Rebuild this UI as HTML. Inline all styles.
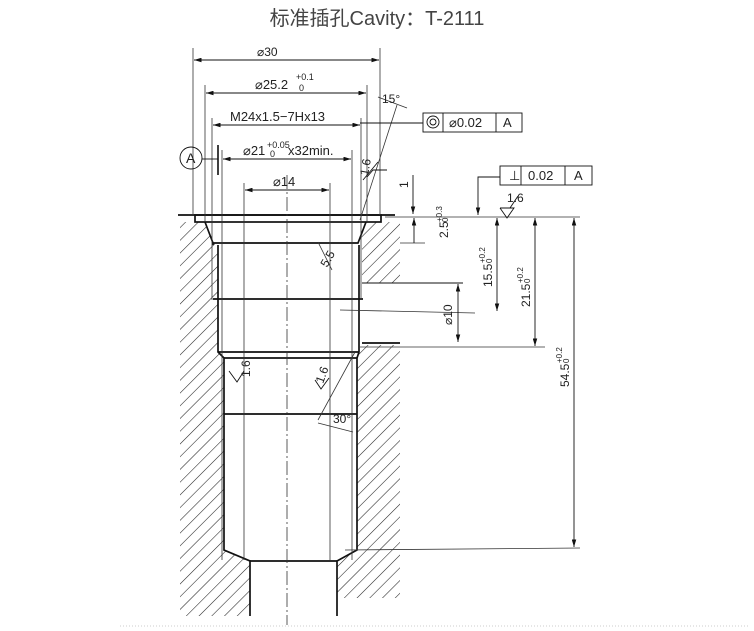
<!DOCTYPE html>
<html><head><meta charset="utf-8"><style>
body{margin:0;background:#fff;width:754px;height:631px;overflow:hidden}
.t{position:absolute;left:0;top:2px;width:754px;text-align:center;font:20px "Liberation Sans","Noto Sans CJK SC",sans-serif;color:#444}
svg{position:absolute;left:0;top:0}
text{font-family:"Liberation Sans",sans-serif;fill:#222}
</style></head><body>
<div class="t">标准插孔Cavity：T-2111</div>
<svg width="754" height="631" viewBox="0 0 754 631">
<defs>
<pattern id="h" width="9" height="9" patternUnits="userSpaceOnUse" patternTransform="rotate(45)">
<line x1="0" y1="0" x2="0" y2="9" stroke="#222" stroke-width="1.1"/></pattern>
<marker id="a" viewBox="0 0 10 6" refX="10" refY="3" markerWidth="10" markerHeight="5" orient="auto-start-reverse"><path d="M0,0L10,3L0,6z" fill="#111"/></marker>
</defs>
<g stroke="none" fill="url(#h)">
<polygon points="180,222 205,222 213,243 218,245 218,352 224,358 224,550 250,561 250,616 180,616"/>
<polygon points="366,222 400,222 400,283 362,283 362,243 358,243"/>
<polygon points="362,345 400,345 400,600 337,600 337,561 357,550 357,358"/>
</g>
<g fill="#fff" stroke="none"><rect x="337" y="598" width="70" height="22"/></g>
<g stroke="#111" fill="none" stroke-width="1.7">
<line x1="178" y1="215" x2="395" y2="215"/>
<rect x="195" y="215" width="186" height="7"/>
<polyline points="205,222 213,243 358,243 366,222"/>
<line x1="213" y1="243" x2="213" y2="245"/>
<polyline points="218,245 218,352 224,358 224,550 250,561 250,616"/>
<polyline points="359,245 359,352 357,358 357,550 337,561 337,616"/>
<line x1="213" y1="299" x2="363" y2="299"/>
<line x1="218" y1="352" x2="359" y2="352"/>
<line x1="224" y1="358" x2="357" y2="358"/>
<line x1="224" y1="414" x2="357" y2="414"/>
<line x1="250" y1="561" x2="337" y2="561"/>
<line x1="362" y1="283" x2="463" y2="283" stroke-width="1"/>
<line x1="362" y1="343" x2="400" y2="343"/>
</g>
<g stroke="#333" fill="none" stroke-width="0.8">
<line x1="287" y1="175" x2="287" y2="625" stroke-dasharray="14,3,2,3"/>
<line x1="193" y1="48" x2="193" y2="215"/><line x1="380" y1="48" x2="380" y2="215"/>
<line x1="205" y1="85" x2="205" y2="222"/><line x1="367" y1="85" x2="367" y2="222"/>
<line x1="212" y1="118" x2="212" y2="300"/><line x1="361" y1="118" x2="361" y2="300"/>
<line x1="222" y1="150" x2="222" y2="560"/><line x1="352" y1="150" x2="352" y2="560"/>
<line x1="244" y1="183" x2="244" y2="560"/><line x1="330" y1="183" x2="330" y2="560"/>
<line x1="340" y1="310" x2="475" y2="313"/>
<line x1="358" y1="347" x2="545" y2="347"/>
<line x1="345" y1="550" x2="580" y2="548"/>
<line x1="385" y1="217" x2="580" y2="217"/>
<line x1="400" y1="243" x2="425" y2="243"/>
<line x1="360" y1="220" x2="397" y2="105"/>
<line x1="378" y1="97" x2="407" y2="108"/>
<line x1="318" y1="420" x2="355" y2="352"/>
<line x1="318" y1="423" x2="353" y2="432"/>
<line x1="318" y1="242" x2="332" y2="270"/>
</g>
<g stroke="#111" stroke-width="0.9" marker-start="url(#a)" marker-end="url(#a)">
<line x1="194" y1="60" x2="379" y2="60"/>
<line x1="206" y1="93" x2="366" y2="93"/>
<line x1="213" y1="125" x2="360" y2="125"/>
<line x1="223" y1="159" x2="351" y2="159"/>
<line x1="245" y1="190" x2="329" y2="190"/>
<line x1="458" y1="284" x2="458" y2="342"/>
<line x1="497" y1="218" x2="497" y2="311"/>
<line x1="535" y1="218" x2="535" y2="346"/>
<line x1="574" y1="218" x2="574" y2="547"/>
</g>
<g stroke="#111" stroke-width="0.9" fill="none">
<line x1="413" y1="175" x2="413" y2="214" marker-end="url(#a)"/>
<line x1="414" y1="232" x2="414" y2="218" marker-end="url(#a)"/>
<line x1="414" y1="232" x2="414" y2="243"/>
<line x1="218" y1="145" x2="218" y2="175" stroke-width="1.6"/>
<line x1="202" y1="159" x2="218" y2="159"/>
<circle cx="191" cy="158" r="11"/>
<line x1="360" y1="123" x2="423" y2="123"/>
<rect x="423" y="113" width="99" height="19"/><line x1="443" y1="113" x2="443" y2="132"/><line x1="496" y1="113" x2="496" y2="132"/>
<circle cx="433" cy="122" r="6"/><circle cx="433" cy="122" r="3"/>
<rect x="500" y="166" width="92" height="19"/><line x1="521" y1="166" x2="521" y2="185"/><line x1="565" y1="166" x2="565" y2="185"/>
<polyline points="500,177 478,177 478,215" marker-end="url(#a)"/>
<polyline points="500,208 507,218 514,208 500,208"/>
<polyline points="367,177 373,170 387,170"/>
<polyline points="229,371 237,382 244,371"/>
<polyline points="315,380 321,389 329,378"/>
<line x1="510" y1="208" x2="518" y2="196"/>
<line x1="363" y1="180" x2="378" y2="162"/>
</g>
<g font-size="13">
<text x="257" y="56" font-size="12">⌀30</text>
<text x="255" y="89">⌀25.2</text><text x="296" y="80" font-size="9">+0.1</text><text x="299" y="91" font-size="9">0</text>
<text x="230" y="121">M24x1.5−7Hx13</text>
<text x="243" y="155">⌀21</text><text x="267" y="148" font-size="9">+0.05</text><text x="270" y="157" font-size="9">0</text><text x="288" y="155">x32min.</text>
<text x="273" y="186">⌀14</text>
<text x="186" y="163" font-size="14">A</text>
<text x="382" y="103" font-size="12">15°</text>
<text x="449" y="127">⌀0.02</text><text x="503" y="127">A</text>
<text x="528" y="180">0.02</text><text x="574" y="180">A</text>
<text x="507" y="202" font-size="12">1.6</text>
<text x="509" y="180" font-size="13">⊥</text>
<text x="333" y="423" font-size="12">30°</text>
</g>
<g font-size="12">
<text transform="translate(368,176) rotate(-80)">1.6</text>
<text transform="translate(250,377) rotate(-90)">1.6</text>
<text transform="translate(323,384) rotate(-70)">1.6</text>
<text transform="translate(327,268) rotate(-60)">5.5</text>
<text transform="translate(408,188) rotate(-90)">1</text>
<text transform="translate(452,325) rotate(-90)">⌀10</text>
<text transform="translate(448,238) rotate(-90)">2.5</text><text transform="translate(442,222) rotate(-90)" font-size="8">+0.3</text><text transform="translate(448,222) rotate(-90)" font-size="8">0</text>
<text transform="translate(492,287) rotate(-90)">15.5</text><text transform="translate(485,263) rotate(-90)" font-size="8">+0.2</text><text transform="translate(492,263) rotate(-90)" font-size="8">0</text>
<text transform="translate(530,307) rotate(-90)">21.5</text><text transform="translate(523,283) rotate(-90)" font-size="8">+0.2</text><text transform="translate(530,283) rotate(-90)" font-size="8">0</text>
<text transform="translate(569,387) rotate(-90)">54.5</text><text transform="translate(562,363) rotate(-90)" font-size="8">+0.2</text><text transform="translate(569,363) rotate(-90)" font-size="8">0</text>
</g>
<line x1="120" y1="626" x2="750" y2="626" stroke="#ccc" stroke-width="1" stroke-dasharray="1,2"/>
</svg>
</body></html>
